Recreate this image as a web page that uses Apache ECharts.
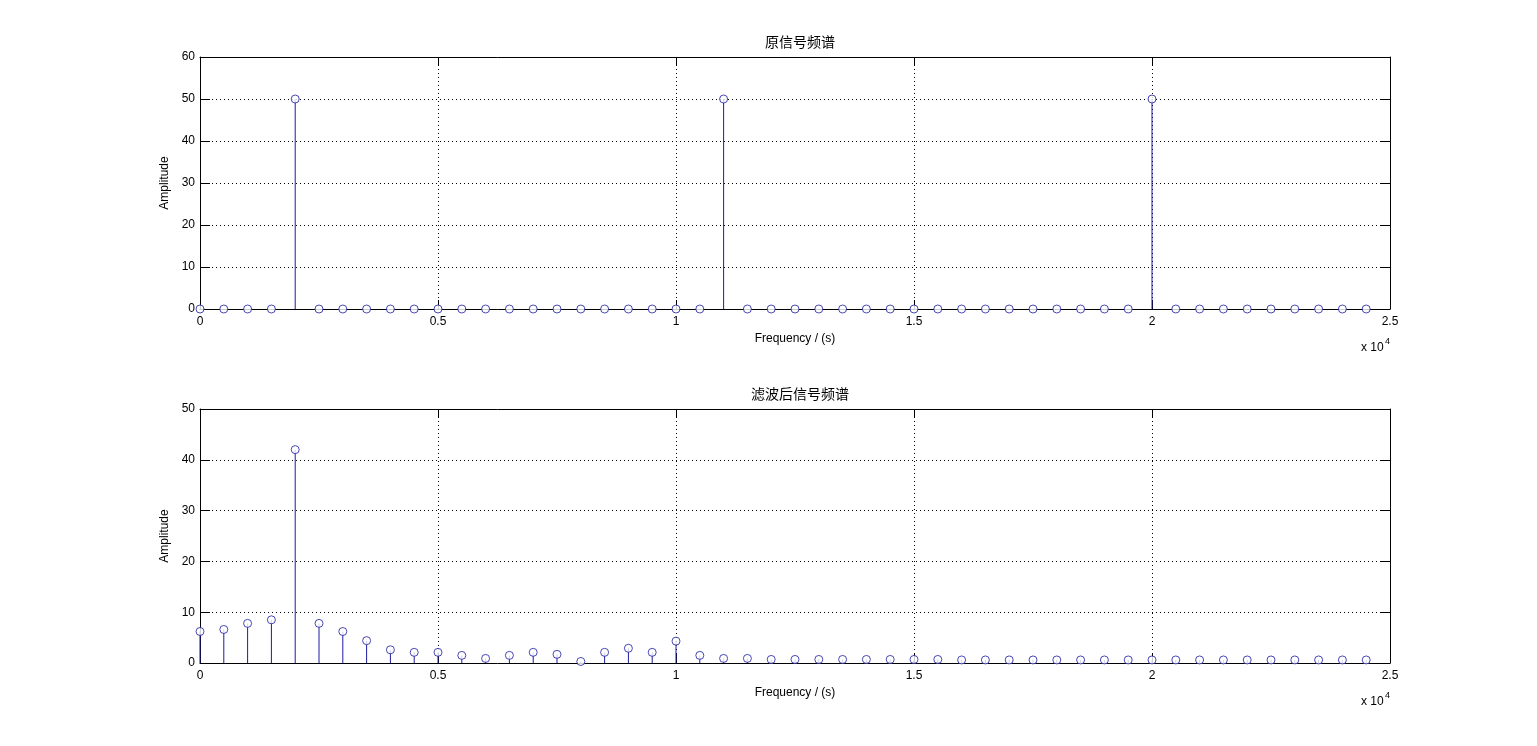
<!DOCTYPE html>
<html>
<head>
<meta charset="utf-8">
<script src="https://cdn.jsdelivr.net/npm/echarts@6/dist/echarts.min.js"></script>
<style>
html,body{margin:0;padding:0;background:#fff;}
#chart{width:1537px;height:746px;}
</style>
</head>
<body>
<div id="chart"></div>
<script>
// ---- data ----
var frequencies = [0,500,1000,1500,2000,2500,3000,3500,4000,4500,5000,5500,6000,6500,7000,7500,8000,8500,9000,9500,
  10000,10500,11000,11500,12000,12500,13000,13500,14000,14500,15000,15500,16000,16500,17000,17500,18000,18500,19000,19500,
  20000,20500,21000,21500,22000,22500,23000,23500,24000,24500];
var originalAmp = [0,0,0,0,50,0,0,0,0,0,0,0,0,0,0,0,0,0,0,0,
  0,0,50,0,0,0,0,0,0,0,0,0,0,0,0,0,0,0,0,0,
  50,0,0,0,0,0,0,0,0,0];
var filteredAmp = [6.2,6.6,7.8,8.5,42,7.8,6.2,4.4,2.6,2.1,2.1,1.5,0.9,1.5,2.1,1.7,0.3,2.1,2.9,2.1,
  4.3,1.5,0.9,0.9,0.7,0.7,0.7,0.7,0.7,0.7,0.7,0.7,0.6,0.6,0.6,0.6,0.6,0.6,0.6,0.6,
  0.6,0.6,0.6,0.6,0.6,0.6,0.6,0.6,0.6,0.6];
var titles = ['原信号频谱', '滤波后信号频谱'];
var xName = 'Frequency / (s)';
var yName = 'Amplitude';
var yMaxes = [60, 50];

var BLUE = '#1c1ca0';
var LATIN = '"Liberation Sans", Arial, sans-serif';
var CJK = '"Noto Sans CJK SC", sans-serif';

function pairs(xs, ys){ return xs.map(function(x,i){ return [x, ys[i]]; }); }

var gridTops = [57, 409];
var gridHeights = [252, 254];

var option = {
  backgroundColor: '#fff',
  animation: false,
  color: [BLUE],
  title: titles.map(function(t,i){
    return {text: t, left: 795, top: gridTops[i]-27, textAlign: 'center',
      textStyle: {fontFamily: CJK, fontSize: 14, fontWeight: 'normal', color: '#000'}};
  }),
  grid: gridTops.map(function(t,i){ return {left: 200, width: 1190, top: t, height: gridHeights[i]}; }),
  xAxis: [], yAxis: [], series: [],
  graphic: []
};

[0,1].forEach(function(g){
  option.xAxis.push({
    type: 'value', gridIndex: g, min: 0, max: 25000, interval: 5000, position: 'bottom',
    name: xName, nameLocation: 'middle', nameGap: 24,
    nameTextStyle: {fontFamily: LATIN, fontSize: 12, color: '#000'},
    axisLine: {show: true, onZero: false, lineStyle: {color: '#000', width: 1}},
    axisTick: {show: true, inside: true, length: 9, lineStyle: {color: '#000'}},
    axisLabel: {margin: 7, fontFamily: LATIN, fontSize: 12, color: '#000',
      formatter: function(v){ return String(v/10000); }},
    splitLine: {show: true, lineStyle: {color: '#000', type: [1,3], width: 1}}
  });
  option.xAxis.push({
    type: 'value', gridIndex: g, min: 0, max: 25000, interval: 5000, position: 'top',
    axisLine: {show: true, onZero: false, lineStyle: {color: '#000', width: 1}},
    axisTick: {show: true, inside: true, length: 9, lineStyle: {color: '#000'}},
    axisLabel: {show: false}, splitLine: {show: false}
  });
  option.yAxis.push({
    type: 'value', gridIndex: g, min: 0, max: yMaxes[g], interval: 10, position: 'left',
    name: yName, nameLocation: 'middle', nameGap: 20, nameRotate: 90,
    nameTextStyle: {fontFamily: LATIN, fontSize: 12, color: '#000'},
    axisLine: {show: true, onZero: false, lineStyle: {color: '#000', width: 1}},
    axisTick: {show: true, inside: true, length: 10, lineStyle: {color: '#000'}},
    axisLabel: {margin: 5, fontFamily: LATIN, fontSize: 12, color: '#000'},
    splitLine: {show: true, lineStyle: {color: '#000', type: [1,3], width: 1}}
  });
  option.yAxis.push({
    type: 'value', gridIndex: g, min: 0, max: yMaxes[g], interval: 10, position: 'right',
    axisLine: {show: true, onZero: false, lineStyle: {color: '#000', width: 1}},
    axisTick: {show: true, inside: true, length: 10, lineStyle: {color: '#000'}},
    axisLabel: {show: false}, splitLine: {show: false}
  });
  var data = pairs(frequencies, g === 0 ? originalAmp : filteredAmp);
  option.series.push({
    type: 'bar', xAxisIndex: g*2, yAxisIndex: g*2, data: data, z: 3,
    barWidth: 1, barGap: '0%',
    itemStyle: {color: BLUE},
    emphasis: {disabled: true}
  });
  option.series.push({
    type: 'scatter', xAxisIndex: g*2, yAxisIndex: g*2, data: data, z: 4,
    symbol: 'circle', symbolSize: 8,
    itemStyle: {color: '#fff', borderColor: BLUE, borderWidth: 1},
    emphasis: {disabled: true}
  });
  var base = gridTops[g] + gridHeights[g];
  option.graphic.push({type: 'text', left: 1361, top: base + 33,
    style: {text: 'x 10', fontFamily: LATIN, fontSize: 12, fill: '#000'}});
  option.graphic.push({type: 'text', left: 1385, top: base + 28,
    style: {text: '4', fontFamily: LATIN, fontSize: 9, fill: '#000'}});
});

var chart = echarts.init(document.getElementById('chart'), null, {renderer: 'canvas'});
chart.setOption(option);
</script>
</body>
</html>
